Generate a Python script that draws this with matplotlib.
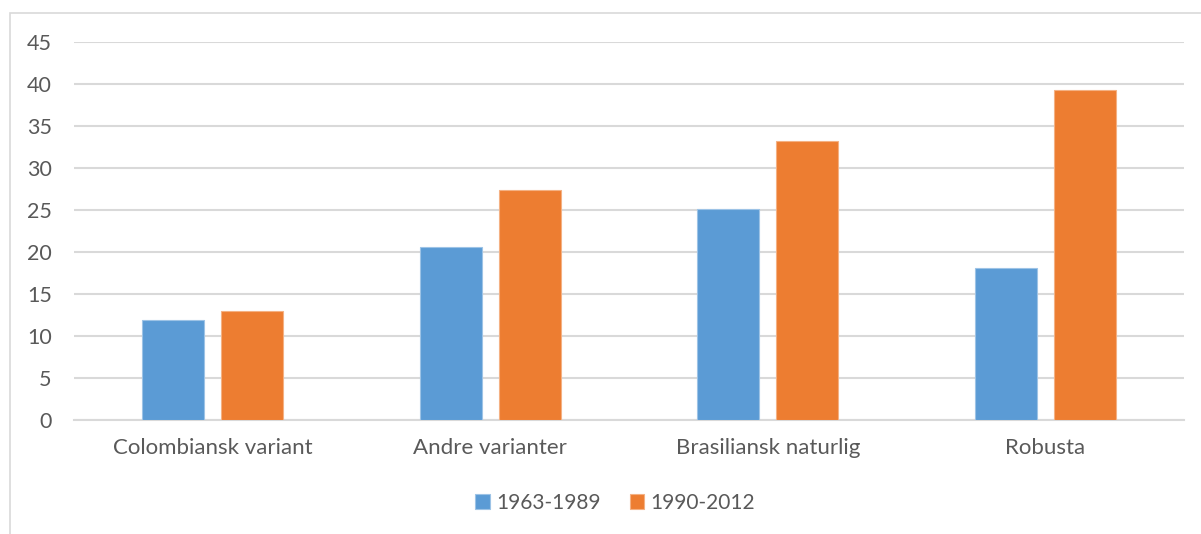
import matplotlib
matplotlib.use("Agg")
import matplotlib.pyplot as plt
import numpy as np
from matplotlib.patches import Rectangle

categories = ["Colombiansk variant", "Andre varianter", "Brasiliansk naturlig", "Robusta"]
series_names = ["1963-1989", "1990-2012"]
values_early = [11.9, 20.6, 25.1, 18.1]
values_late = [12.9, 27.3, 33.2, 39.3]
yticks = [0, 5, 10, 15, 20, 25, 30, 35, 40, 45]

colors = ["#5B9BD5", "#ED7D31"]
edge_colors = ["#9DC3E6", "#F4B183"]
text_color = "#595959"
grid_color = "#D9D9D9"

plt.rcParams["font.family"] = ["Lato", "DejaVu Sans"]

fig = plt.figure(figsize=(12.01, 5.34), dpi=100)
fig.patch.set_facecolor("white")

# light chart-area frame
fig.patches.append(Rectangle((10 / 1201, -0.1), 1.2, (534 - 13) / 534 + 0.1,
                             transform=fig.transFigure, fill=False,
                             edgecolor=grid_color, linewidth=1.2, zorder=0))

ax = fig.add_axes([74 / 1201, 114.5 / 534, (1184 - 74) / 1201, (419.5 - 42) / 534])

x = np.arange(len(categories))
bw = 0.223
gap = 0.061
offset = (bw + gap) / 2
ax.bar(x - offset, values_early, bw, color=colors[0], edgecolor=edge_colors[0],
       linewidth=0.8, label=series_names[0], zorder=3)
ax.bar(x + offset, values_late, bw, color=colors[1], edgecolor=edge_colors[1],
       linewidth=0.8, label=series_names[1], zorder=3)

ax.set_xlim(-0.5, len(categories) - 0.5)
ax.set_ylim(0, 45)
ax.set_yticks(yticks)
ax.set_xticks(x)
ax.set_xticklabels(categories)
ax.yaxis.grid(True, color=grid_color, linewidth=1.5, zorder=0)
ax.set_axisbelow(True)
for s in ["top", "right", "left"]:
    ax.spines[s].set_visible(False)
ax.spines["bottom"].set_color(grid_color)
ax.spines["bottom"].set_linewidth(1.5)
ax.tick_params(axis="both", length=0, colors=text_color)
ax.tick_params(axis="y", pad=16, labelsize=15.5)
ax.tick_params(axis="x", pad=13, labelsize=16)

leg = fig.legend(loc="center", bbox_to_anchor=(615 / 1201, 1 - 503 / 534), ncol=2,
                 frameon=False, fontsize=15, handlelength=0.7, handleheight=0.7,
                 handletextpad=0.3, columnspacing=1.4)
for t in leg.get_texts():
    t.set_color(text_color)

fig.savefig("out.png", dpi=100)
